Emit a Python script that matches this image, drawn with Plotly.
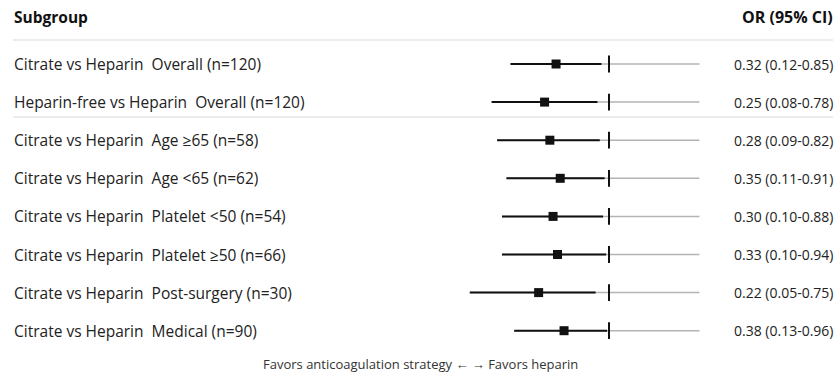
import plotly.graph_objects as go

comparisons = ["Citrate vs Heparin", "Heparin-free vs Heparin", "Citrate vs Heparin", "Citrate vs Heparin",
               "Citrate vs Heparin", "Citrate vs Heparin", "Citrate vs Heparin", "Citrate vs Heparin"]
subgroups = ["Overall (n=120)", "Overall (n=120)", "Age ≥65 (n=58)", "Age <65 (n=62)",
             "Platelet <50 (n=54)", "Platelet ≥50 (n=66)", "Post-surgery (n=30)", "Medical (n=90)"]
or_vals = [0.32, 0.25, 0.28, 0.35, 0.30, 0.33, 0.22, 0.38]
ci_low = [0.12, 0.08, 0.09, 0.11, 0.10, 0.10, 0.05, 0.13]
ci_high = [0.85, 0.78, 0.82, 0.91, 0.88, 0.94, 0.75, 0.96]
axis_max = 7.0
ref_value = 1.0

W, H = 840, 378
FONT = "Open Sans, Noto Sans, sans-serif"
TXT = "#222222"

rows = list(range(len(or_vals)))
row0_px, row_step = 64.0, 38.1


def yv(px):
    return (px - row0_px) / row_step


def xp(px):
    return px / W


fig = go.Figure()

# gray background line per row
gx, gy = [], []
for i in rows:
    gx += [ci_low[i], axis_max, None]
    gy += [i, i, None]
fig.add_trace(go.Scatter(x=gx, y=gy, mode="lines", line=dict(color="#b4b4b4", width=1.5),
                         hoverinfo="skip", showlegend=False))

# CI lines
bx, by = [], []
for i in rows:
    bx += [ci_low[i], ci_high[i], None]
    by += [i, i, None]
fig.add_trace(go.Scatter(x=bx, y=by, mode="lines", line=dict(color="#111111", width=2),
                         hoverinfo="skip", showlegend=False))

# reference ticks at OR = 1
rx, ry = [], []
for i in rows:
    rx += [ref_value, ref_value, None]
    ry += [i - 0.22, i + 0.22, None]
fig.add_trace(go.Scatter(x=rx, y=ry, mode="lines", line=dict(color="#111111", width=2),
                         hoverinfo="skip", showlegend=False))

# point estimates
fig.add_trace(go.Scatter(x=or_vals, y=rows, mode="markers",
                         marker=dict(symbol="square", size=9, color="#111111"),
                         showlegend=False))

ann = []
for i in rows:
    ann.append(dict(x=xp(12), xref="paper", y=i, yref="y", xanchor="left", yanchor="middle",
                    text=f"{comparisons[i]}\u00a0 {subgroups[i]}", showarrow=False,
                    font=dict(family=FONT, size=15.5, color=TXT)))
    ann.append(dict(x=xp(835), xref="paper", y=i, yref="y", xanchor="right", yanchor="middle",
                    text=f"{or_vals[i]:.2f} ({ci_low[i]:.2f}-{ci_high[i]:.2f})", showarrow=False,
                    font=dict(family=FONT, size=14, color=TXT)))
ann.append(dict(x=xp(12), xref="paper", y=yv(17), yref="y", xanchor="left", yanchor="middle",
                text="<b>Subgroup</b>", showarrow=False, font=dict(family=FONT, size=15.5, color="#111")))
ann.append(dict(x=xp(835), xref="paper", y=yv(17), yref="y", xanchor="right", yanchor="middle",
                text="<b>OR (95% CI)</b>", showarrow=False, font=dict(family=FONT, size=16, color="#111")))
ann.append(dict(x=xp(420), xref="paper", y=yv(364), yref="y", xanchor="center", yanchor="middle",
                text="Favors anticoagulation strategy ← → Favors heparin", showarrow=False,
                font=dict(family=FONT, size=13, color="#333")))

shapes = [
    dict(type="line", xref="paper", yref="y", x0=xp(13), x1=xp(833), y0=yv(40), y1=yv(40),
         line=dict(color="#d9d9d9", width=1)),
    dict(type="line", xref="paper", yref="y", x0=xp(13), x1=xp(833), y0=yv(117), y1=yv(117),
         line=dict(color="#d9d9d9", width=1)),
]

dom0, dom1 = 440, 720
px_per_dec = 107.0
ref_px = 609.0
fig.update_layout(
    width=W, height=H, margin=dict(l=0, r=0, t=0, b=0),
    paper_bgcolor="white", plot_bgcolor="white",
    xaxis=dict(type="log", domain=[dom0 / W, dom1 / W],
               range=[(dom0 - ref_px) / px_per_dec, (dom1 - ref_px) / px_per_dec],
               showgrid=False, zeroline=False, showticklabels=False, ticks="", showline=False),
    yaxis=dict(range=[yv(H), yv(0)], showgrid=False, zeroline=False, showticklabels=False,
               ticks="", showline=False),
    annotations=ann, shapes=shapes,
)

fig.write_html("out.html", config={"displayModeBar": False},
               post_script="document.body.style.margin='0';document.body.style.padding='0';"
                           "document.body.style.overflow='hidden';")
